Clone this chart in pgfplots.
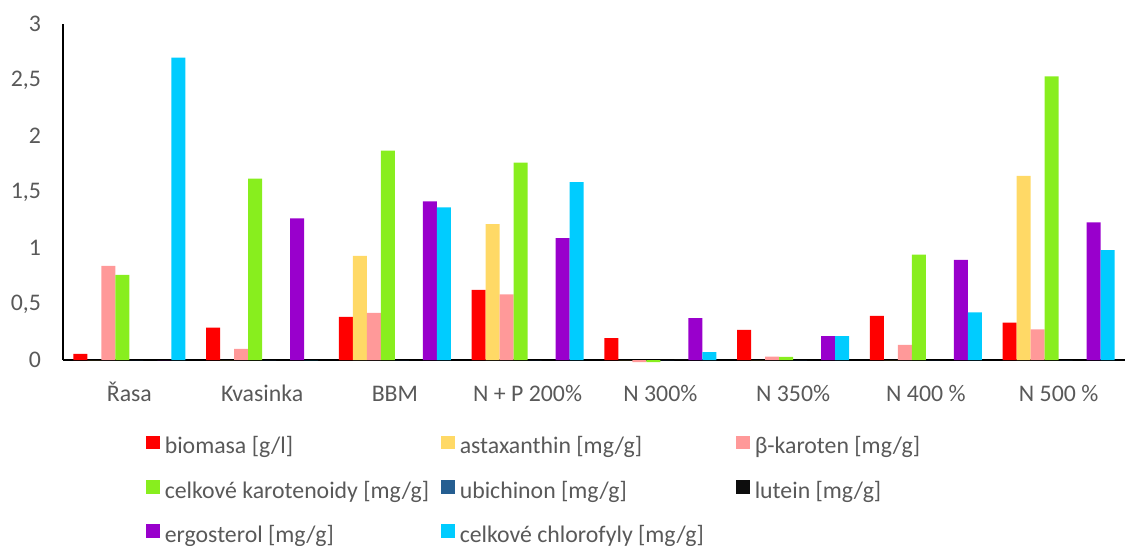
\documentclass[border=0pt]{standalone}
\usepackage{fontspec}
\setmainfont{Carlito}
\usepackage{pgfplots}
\pgfplotsset{compat=1.18}
\definecolor{cBio}{HTML}{FF0000}
\definecolor{cAsta}{HTML}{FFD966}
\definecolor{cBeta}{HTML}{FF9999}
\definecolor{cKar}{HTML}{88EE1E}
\definecolor{cUbi}{HTML}{255E91}
\definecolor{cLut}{HTML}{0D0D0D}
\definecolor{cErg}{HTML}{9900CC}
\definecolor{cChl}{HTML}{00CCFF}
\definecolor{labelgray}{HTML}{595959}
\begin{document}
\begin{tikzpicture}
\path[use as bounding box] (0pt,0pt) rectangle (562.5pt,273pt);
\begin{axis}[
  at={(31.5pt,93pt)}, anchor=south west,
  scale only axis, width=531pt, height=168pt,
  xmin=-0.5, xmax=7.5, ymin=0, ymax=3,
  clip=false,
  axis lines*=left,
  axis line style={black, line width=0.9pt},
  major tick length=0pt,
  ytick={0,0.5,1,1.5,2,2.5,3},
  xtick={0,1,2,3,4,5,6,7},
  xticklabels={Řasa,Kvasinka,BBM,N + P 200\%,N 300\%,N 350\%,N 400 \%,N 500 \%},
  tick label style={font=\fontsize{11.9pt}{14pt}\selectfont, text=labelgray},
  yticklabel style={/pgf/number format/use comma, /pgf/number format/assume math mode=true, xshift=-7.5pt},
  xticklabel style={yshift=-8pt, text height=9pt, text depth=2pt},
  ybar=0pt, bar width=7pt,
  every axis plot/.append style={draw=none},
  legend columns=3,
  legend image code/.code={\fill[#1,draw=none] (0pt,-0.5pt) rectangle (7pt,6.3pt);},
  legend style={at={(0.0725,-0.212)}, anchor=north west, draw=none, fill=none,
    font=\fontsize{11.9pt}{14pt}\selectfont, text=labelgray,
    nodes={inner sep=0pt, text height=8pt, text depth=2.5pt},
    row sep=10.6pt,
    /tikz/every odd column/.append style={column sep=2.2pt},
    /tikz/every even column/.append style={column sep=0pt}},
]
\addplot[fill=cBio] coordinates {(0,0.054) (1,0.29) (2,0.384) (3,0.625) (4,0.196) (5,0.268) (6,0.393) (7,0.333)};
\addlegendentry{\makebox[138.3pt][l]{biomasa [g/l]}}
\addplot[fill=cAsta] coordinates {(0,0) (1,0) (2,0.93) (3,1.214) (4,0) (5,0) (6,0) (7,1.643)};
\addlegendentry{\makebox[138.3pt][l]{astaxanthin [mg/g]}}
\addplot[fill=cBeta] coordinates {(0,0.84) (1,0.10) (2,0.42) (3,0.587) (4,-0.02) (5,0.03) (6,0.134) (7,0.274)};
\addlegendentry{\makebox[138.3pt][l]{β-karoten [mg/g]}}
\addplot[fill=cKar] coordinates {(0,0.76) (1,1.62) (2,1.87) (3,1.762) (4,-0.02) (5,0.027) (6,0.94) (7,2.533)};
\addlegendentry{\makebox[138.3pt][l]{celkové karotenoidy [mg/g]}}
\addplot[fill=cUbi] coordinates {(0,0) (1,0) (2,0) (3,0) (4,0) (5,0) (6,0) (7,0)};
\addlegendentry{\makebox[138.3pt][l]{ubichinon [mg/g]}}
\addplot[fill=cLut] coordinates {(0,0) (1,0) (2,0) (3,0) (4,0.005) (5,0) (6,0) (7,0)};
\addlegendentry{\makebox[138.3pt][l]{lutein [mg/g]}}
\addplot[fill=cErg] coordinates {(0,0) (1,1.265) (2,1.417) (3,1.089) (4,0.375) (5,0.214) (6,0.893) (7,1.229)};
\addlegendentry{\makebox[138.3pt][l]{ergosterol [mg/g]}}
\addplot[fill=cChl] coordinates {(0,2.70) (1,0) (2,1.363) (3,1.589) (4,0.071) (5,0.214) (6,0.426) (7,0.982)};
\addlegendentry{\makebox[138.3pt][l]{celkové chlorofyly [mg/g]}}
\end{axis}
\end{tikzpicture}
\end{document}
